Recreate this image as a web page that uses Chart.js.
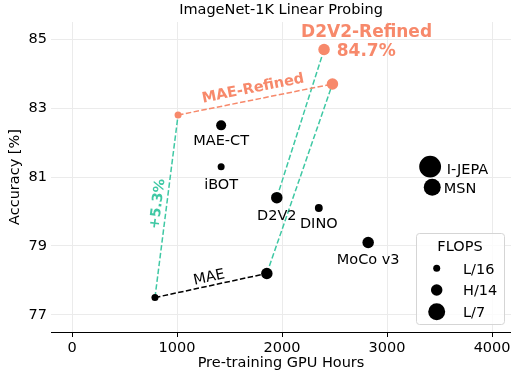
<!DOCTYPE html>
<html>
<head>
<meta charset="utf-8">
<script src="https://cdn.jsdelivr.net/npm/chart.js@4.4.0/dist/chart.umd.min.js"></script>
<style>
  body { margin: 0; background: #fff; }
</style>
</head>
<body>
<canvas id="myChart" width="511" height="375"></canvas>
<script>
const FONT = "'DejaVu Sans', sans-serif"
const SALMON = "#f7896b"
const TEAL = "#3fc8a4"

// other methods
const baseNames = ["MAE-CT", "iBOT", "D2V2", "DINO", "MoCo v3", "I-JEPA", "MSN"]
const baseHours = [1420, 1420, 1950, 2350, 2820, 3410, 3430]
const baseAcc = [82.5, 81.3, 80.4, 80.1, 79.1, 81.3, 80.7]
const baseFlops = [127, 62, 167, 78, 167, 600, 363]

// MAE, L/16 and H/14
const maeHours = [790, 1855]
const maeAcc = [77.5, 78.2]
const maeFlops = [62, 167]

// MAE after refinement
const maeRefHours = [1010, 2480]
const maeRefAcc = [82.8, 83.7]
const maeRefFlops = [62, 167]

// D2V2 after refinement
const d2v2RefHours = [2400]
const d2v2RefAcc = [84.7]
const d2v2RefFlops = [167]

// axes
const xTicks = [0, 1000, 2000, 3000, 4000]
const yTicks = [77, 79, 81, 83, 85]

// legend
const legendNames = ["L/16", "H/14", "L/7"]
const legendFlops = [62, 167, 363]

const radiusFor = (gflops) => 0.445 * Math.sqrt(gflops)
const toPoints = (xs, ys) => xs.map((x, i) => ({ x: x, y: ys[i] }))

const d2v2Idx = baseNames.indexOf("D2V2")

const dashed = (pts, color) => ({
  data: pts,
  showLine: true,
  borderColor: color,
  borderWidth: 1.5,
  borderDash: [5.5, 2.4],
  pointRadius: 0,
  pointHoverRadius: 0,
  order: 2,
})

const dots = (xs, ys, flops, color) => ({
  data: toPoints(xs, ys),
  backgroundColor: color,
  borderWidth: 0,
  pointRadius: flops.map(radiusFor),
  pointHoverRadius: flops.map(radiusFor),
  order: 1,
})

// where the method names go, relative to their dot
const nameOffsets = {
  "MAE-CT": { dx: 0, dy: 20, align: "center" },
  "iBOT": { dx: 0, dy: 22, align: "center" },
  "D2V2": { dx: 0, dy: 22, align: "center" },
  "DINO": { dx: 0, dy: 20, align: "center" },
  "MoCo v3": { dx: 0, dy: 21.5, align: "center" },
  "I-JEPA": { dx: 16.5, dy: 7, align: "left" },
  "MSN": { dx: 11.5, dy: 5.3, align: "left" },
}

// text written along a segment, rotated to follow it
function alongLine(ctx, p0, p1, text, t, off) {
  const x = p0.x + (p1.x - p0.x) * t
  const y = p0.y + (p1.y - p0.y) * t
  ctx.save()
  ctx.translate(x, y)
  ctx.rotate(Math.atan2(p1.y - p0.y, p1.x - p0.x))
  ctx.textAlign = "center"
  ctx.textBaseline = "middle"
  ctx.fillText(text, 0, -off)
  ctx.restore()
}

const annotations = {
  id: "annotations",
  afterDatasetsDraw(chart) {
    const ctx = chart.ctx
    const sx = chart.scales.x, sy = chart.scales.y
    const px = (x, y) => ({ x: sx.getPixelForValue(x), y: sy.getPixelForValue(y) })

    ctx.save()
    ctx.fillStyle = "#000"
    ctx.font = "14.5px " + FONT
    ctx.textBaseline = "alphabetic"
    baseNames.forEach((name, i) => {
      const p = px(baseHours[i], baseAcc[i])
      const o = nameOffsets[name]
      ctx.textAlign = o.align
      ctx.fillText(name, p.x + o.dx, p.y + o.dy)
    })

    const mae0 = px(maeHours[0], maeAcc[0])
    const mae1 = px(maeHours[1], maeAcc[1])
    const ref0 = px(maeRefHours[0], maeRefAcc[0])
    const ref1 = px(maeRefHours[1], maeRefAcc[1])

    alongLine(ctx, mae0, mae1, "MAE", 0.5, 8)

    ctx.fillStyle = SALMON
    ctx.font = "bold 14.5px " + FONT
    alongLine(ctx, ref0, ref1, "MAE-Refined", 0.5, 11)

    ctx.fillStyle = TEAL
    ctx.font = "bold 14px " + FONT
    const gain = (maeRefAcc[0] - maeAcc[0]).toFixed(1)
    alongLine(ctx, mae0, ref0, "+" + gain + "%", 0.507, 9)

    const top = px(d2v2RefHours[0], d2v2RefAcc[0])
    ctx.fillStyle = SALMON
    ctx.font = "bold 17px " + FONT
    ctx.textBaseline = "alphabetic"
    ctx.textAlign = "center"
    ctx.fillText("D2V2-Refined", top.x + 42.5, top.y - 13)
    ctx.textAlign = "left"
    ctx.fillText(d2v2RefAcc[0] + "%", top.x + 12.7, top.y + 6.2)
    ctx.restore()
  },
  afterDraw(chart) {
    const ctx = chart.ctx
    const bx = 416, by = 233, bw = 88, bh = 91
    ctx.save()
    ctx.beginPath()
    ctx.roundRect(bx + 0.5, by + 0.5, bw, bh, 3)
    ctx.fillStyle = "rgba(255,255,255,0.8)"
    ctx.fill()
    ctx.strokeStyle = "#d5d5d5"
    ctx.lineWidth = 1
    ctx.stroke()

    ctx.fillStyle = "#000"
    ctx.font = "14.5px " + FONT
    ctx.textAlign = "center"
    ctx.fillText("FLOPS", 460, 251.3)
    ctx.textAlign = "left"
    legendNames.forEach((name, i) => {
      const cy = 268.3 + i * 21.7
      ctx.beginPath()
      ctx.arc(436.7, cy, radiusFor(legendFlops[i]), 0, Math.PI * 2)
      ctx.fill()
      ctx.fillText(name, 463, cy + 5.3)
    })
    ctx.restore()
  },
}

const ctx = document.getElementById("myChart").getContext("2d")
const myChart = new Chart(ctx, {
  type: "scatter",
  data: {
    datasets: [
      dots(baseHours, baseAcc, baseFlops, "#000"),
      dots(maeHours, maeAcc, maeFlops, "#000"),
      dots(maeRefHours, maeRefAcc, maeRefFlops, SALMON),
      dots(d2v2RefHours, d2v2RefAcc, d2v2RefFlops, SALMON),
      dashed(toPoints(maeHours, maeAcc), "#000"),
      dashed(toPoints(maeRefHours, maeRefAcc), SALMON),
      dashed(toPoints([maeHours[0], maeRefHours[0]], [maeAcc[0], maeRefAcc[0]]), TEAL),
      dashed(toPoints([maeHours[1], maeRefHours[1]], [maeAcc[1], maeRefAcc[1]]), TEAL),
      dashed(toPoints([baseHours[d2v2Idx], d2v2RefHours[0]], [baseAcc[d2v2Idx], d2v2RefAcc[0]]), TEAL),
    ],
  },
  options: {
    responsive: false,
    animation: false,
    devicePixelRatio: 1,
    layout: { padding: 0, autoPadding: false },
    plugins: {
      legend: { display: false },
      tooltip: { enabled: false },
      title: {
        display: true,
        fullSize: false,
        text: "ImageNet-1K Linear Probing",
        color: "#000",
        font: { family: FONT, size: 14.5, weight: "normal", lineHeight: 1.2 },
        padding: { top: 1.6, bottom: 3 },
      },
    },
    scales: {
      x: {
        type: "linear",
        min: -200,
        max: 4180,
        afterBuildTicks: (scale) => { scale.ticks = xTicks.map(v => ({ value: v })) },
        afterFit: (scale) => { scale.height = 43; scale.paddingLeft = 0; scale.paddingRight = 0 },
        grid: { color: "#ebebeb", lineWidth: 1, tickColor: "#000", tickLength: 5, drawTicks: true },
        border: { display: true, color: "#000", width: 1 },
        ticks: { color: "#000", font: { family: FONT, size: 14.5 }, padding: 3, maxRotation: 0, callback: (v) => String(v) },
        title: {
          display: true,
          text: "Pre-training GPU Hours",
          color: "#000",
          font: { family: FONT, size: 14.5, lineHeight: 1.2 },
          padding: { top: 0, bottom: 2.7 },
        },
      },
      y: {
        type: "linear",
        min: 76.5,
        max: 85.5,
        afterBuildTicks: (scale) => { scale.ticks = yTicks.map(v => ({ value: v })) },
        afterFit: (scale) => { scale.width = 51; scale.paddingTop = 0; scale.paddingBottom = 0 },
        grid: { color: "#ebebeb", lineWidth: 1, drawTicks: false },
        border: { display: false },
        ticks: { color: "#000", font: { family: FONT, size: 14.5 }, padding: 4, callback: (v) => String(v) },
        title: {
          display: true,
          text: "Accuracy [%]",
          color: "#000",
          font: { family: FONT, size: 14.5, lineHeight: 1.2 },
          padding: { top: 7, bottom: 0 },
        },
      },
    },
  },
  plugins: [annotations],
})
</script>
</body>
</html>
